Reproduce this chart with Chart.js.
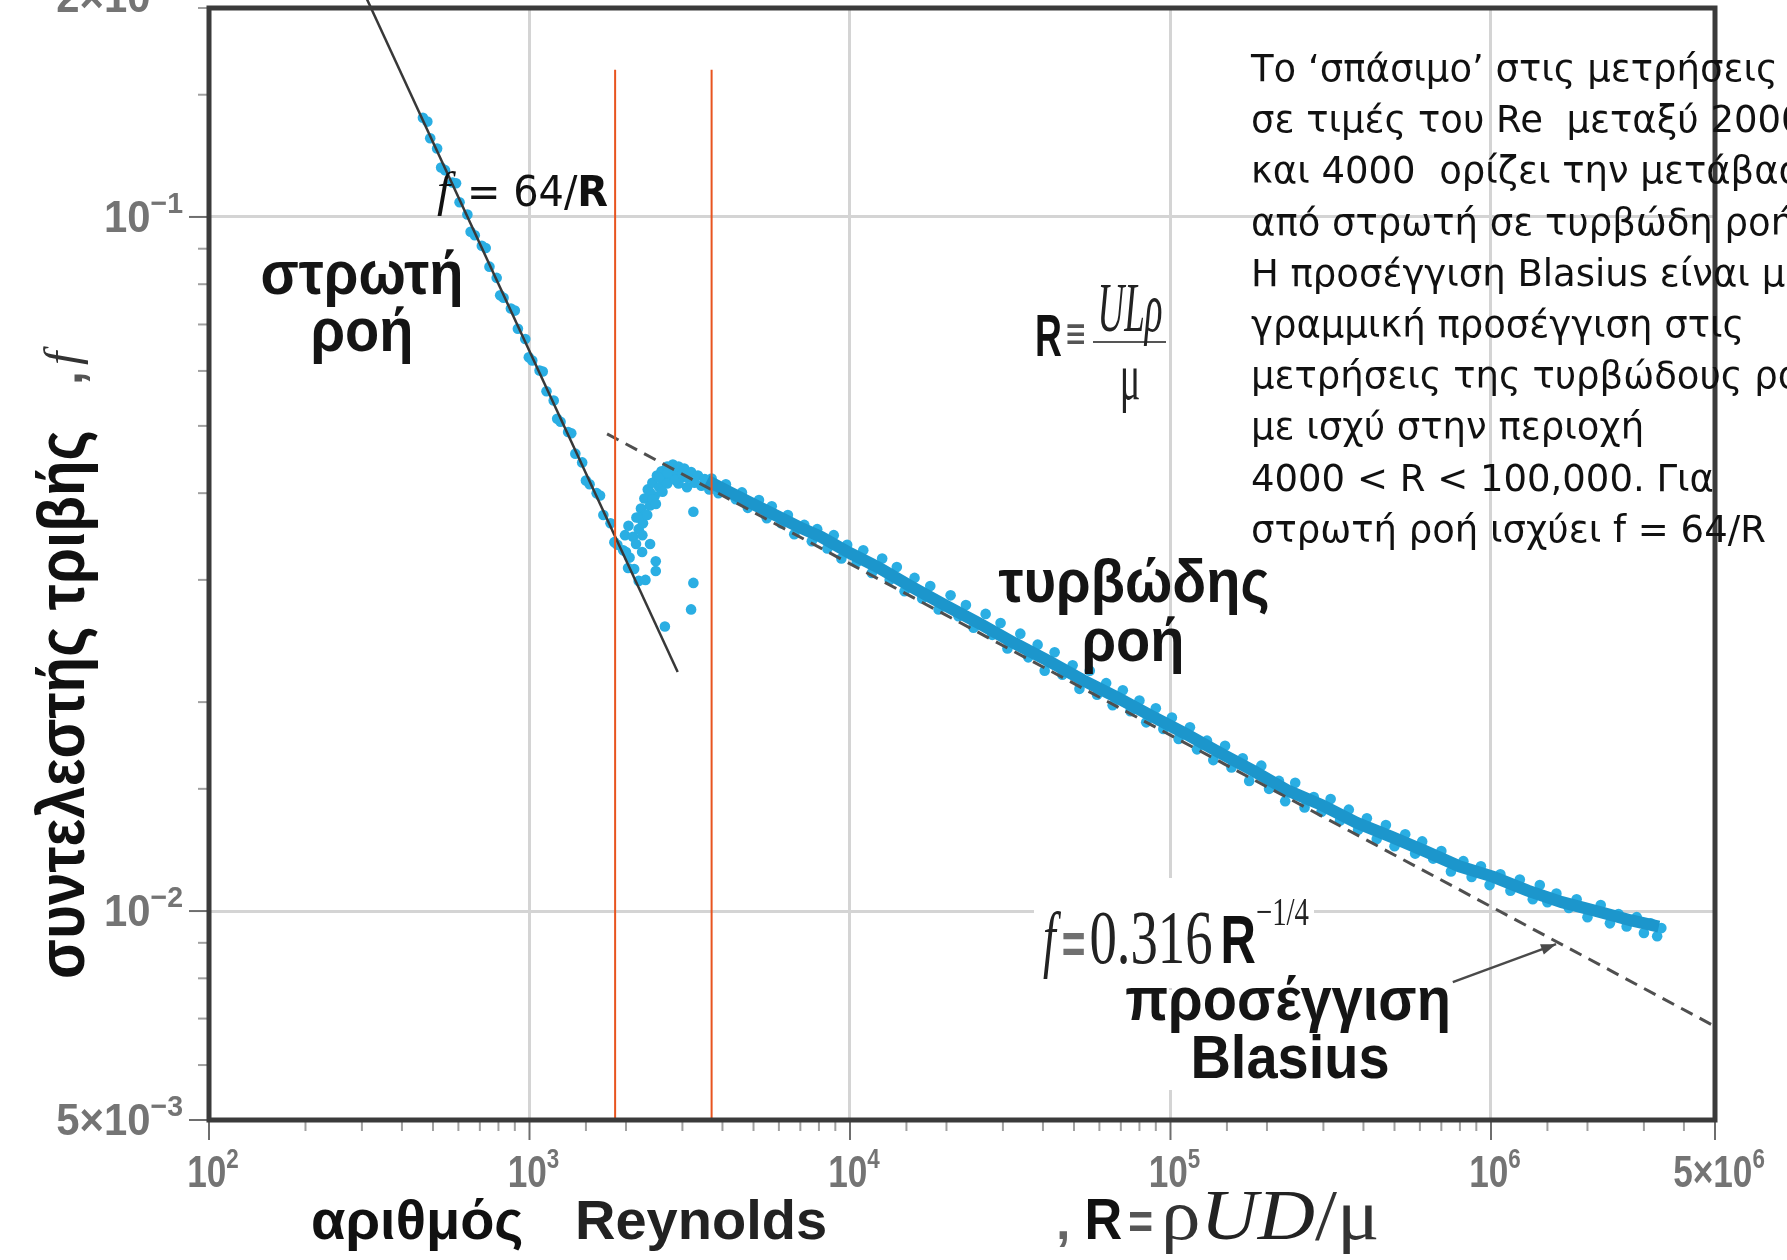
<!DOCTYPE html>
<html><head><meta charset="utf-8">
<script src="https://cdn.jsdelivr.net/npm/chart.js@4.4.1/dist/chart.umd.min.js"></script>
<style>html,body{margin:0;padding:0;background:#fff;}canvas{display:block;}</style>
</head><body>
<canvas id="c" width="1787" height="1260"></canvas>
<script>
// ---------------- DATA ----------------
const xMin = 100, xMax = 5e6, yMin = 5e-3, yMax = 0.2;

const xTickValues = [1e2, 1e3, 1e4, 1e5, 1e6, 5e6];
const xTickBase   = ['10', '10', '10', '10', '10', '5×10'];
const xTickExp    = ['2', '3', '4', '5', '6', '6'];
const yTickValues = [2e-1, 1e-1, 1e-2, 5e-3];
const yTickBase   = ['2×10', '10', '10', '5×10'];
const yTickExp    = ['−1', '−1', '−2', '−3'];

// f = 64/R  (laminar law, solid line)
const laminarLawR = [305, 2900];
const laminarLawF = [0.21, 0.0221];
// Blasius  f = 0.316 R^-1/4  (dashed line)
const blasiusR = [1746, 5e6];
const blasiusF = [0.0487, 0.00682];
// red vertical markers of the transition zone
const transitionMarkR = [1850, 3700];
const transitionMarkTopF = 0.163;
// arrow from the "Blasius" label to the dashed line
const arrowR = [760000, 1596000];
const arrowF = [0.0079, 0.00896];

// measurements – laminar region
const laminarPts = [
 [465,0.1390],[490,0.1298],[515,0.1255],[545,0.1168],[575,0.1121],[605,0.1050],[640,0.1008],[675,0.0941],
 [710,0.0909],[750,0.0848],[790,0.0817],[830,0.0765],[875,0.0738],[920,0.0690],[970,0.0667],[1020,0.0621],
 [1075,0.0601],[1130,0.0561],[1190,0.0544],[1250,0.0507],[1320,0.0490],[1390,0.0456],[1460,0.0443],[1540,0.0412],
 [1620,0.0400],[1700,0.0372],[1790,0.0362],[1880,0.0337],[1960,0.0331],[2030,0.0312],
 [480,0.1372],[530,0.1178],[590,0.1118],[655,0.0952],[730,0.0902],[810,0.0771],[900,0.0733],[995,0.0628],
 [1100,0.0599],[1220,0.0512],[1350,0.0488],[1500,0.0417],[1660,0.0397],[1840,0.0340],[2000,0.0329]
];
// measurements – transition region
const transitionPts = [
 [1986,0.0348],[2036,0.0359],[2052,0.0323],[2103,0.0346],[2121,0.0311],[2156,0.0369],[2191,0.0355],[2191,0.0299],
 [2227,0.0380],[2283,0.0393],[2301,0.0373],[2339,0.0405],[2378,0.0384],[2417,0.0414],[2457,0.0396],[2498,0.0424],
 [2539,0.0408],[2581,0.0430],[2624,0.0418],[2689,0.0437],[2733,0.0424],[2801,0.0440],[2847,0.0427],[2918,0.0437],
 [2967,0.0421],[3040,0.0434],[3115,0.0421],[3193,0.0429],[3272,0.0414],[3354,0.0424],[3438,0.0410],[3524,0.0419],
 [3641,0.0405],[3762,0.0413],[3887,0.0400],[4050,0.0405],[2378,0.0401],[2539,0.0421],[2689,0.0413],[2918,0.0413],
 [2191,0.0369],[2260,0.0362],[2420,0.0392],[2600,0.0402],[2850,0.0418],[3100,0.0408],[2330,0.0372],[2480,0.0386],
 [2700,0.0428],[3000,0.0426],[2150,0.0338],[2250,0.0348],
 [3246,0.0376],[3246,0.0297],[3193,0.0272],[2645,0.0257],[2477,0.0319],[2477,0.0309],[2246,0.0329],[2378,0.0338],[2301,0.0300]
];
// measurements – turbulent region: dense core of the cloud
const turbCoreR = [3580,4220,4970,5850,6890,8120,9970,12200,15600,20000,25600,32700,41800,53400,68300,87300,
 111600,142700,182400,233200,298100,381100,487300,623000,796300,1018000,1302000,1664000,2128000,2720000,3340000];
const turbCoreF = [0.0417,0.0401,0.0386,0.0372,0.0358,0.0346,0.0328,0.0313,0.0293,0.0275,0.0259,0.0243,0.0229,0.0215,0.0203,0.0191,
 0.0180,0.0169,0.0159,0.0149,0.0142,0.0134,0.0128,0.0122,0.0116,0.0112,0.0107,0.0103,0.0100,0.0097,0.0095];
// measurements – turbulent region: individual points around the core
const turbulentPts = [
 [3700,0.0420],[3900,0.0404],[4100,0.0412],[4400,0.0392],[4600,0.0401],[4800,0.0381],[5200,0.0391],[5500,0.0368],
 [5700,0.0383],[6100,0.0362],[6400,0.0372],[6700,0.0349],[7200,0.0360],[7600,0.0341],[7900,0.0355],[8500,0.0333],
 [8900,0.0348],[9400,0.0322],[9800,0.0337],[10500,0.0318],[11000,0.0331],[11700,0.0307],[12600,0.0322],[13300,0.0300],
 [14000,0.0313],[14800,0.0289],[15900,0.0302],[16800,0.0282],[17800,0.0294],[18900,0.0272],[20600,0.0285],[21800,0.0266],
 [23000,0.0276],[24300,0.0256],[26500,0.0268],[27800,0.0250],[29500,0.0260],[31000,0.0239],[34000,0.0251],[36000,0.0232],
 [38500,0.0242],[40500,0.0222],[43500,0.0236],[46000,0.0219],[49500,0.0226],[52000,0.0209],[56000,0.0222],[59000,0.0205],
 [63000,0.0213],[66000,0.0198],[71000,0.0208],[75000,0.0194],[80000,0.0201],[84000,0.0187],[90000,0.0196],[95000,0.0183],
 [101000,0.0190],[106000,0.0177],[115000,0.0184],[121000,0.0171],[130000,0.0176],[136000,0.0165],[148000,0.0173],[155000,0.0161],
 [168000,0.0166],[176000,0.0154],[192000,0.0162],[203000,0.0150],[218000,0.0154],[228000,0.0144],[245000,0.0153],[262000,0.0141],
 [280000,0.0146],[296000,0.0139],[316000,0.0145],[338000,0.0135],[360000,0.0140],[385000,0.0131],[410000,0.0136],[440000,0.0127],
 [470000,0.0133],[500000,0.0124],[540000,0.0129],[580000,0.0121],[610000,0.0126],[660000,0.0119],[700000,0.0122],[750000,0.0114],
 [820000,0.0118],[870000,0.0112],[930000,0.0116],[990000,0.0109],[1070000,0.0113],[1150000,0.0107],[1230000,0.0111],[1350000,0.0104],
 [1420000,0.0109],[1500000,0.0103],[1600000,0.0106],[1750000,0.0101],[1850000,0.0104],[2000000,0.0098],[2200000,0.0102],[2350000,0.0096],
 [2500000,0.0099],[2650000,0.0095],[2850000,0.0098],[3000000,0.0093],[3150000,0.0096],[3300000,0.0092],[3400000,0.00945]
];

const noteLines = [
 'Το ‘σπάσιμο’ στις μετρήσεις',
 'σε τιμές του Re  μεταξύ 2000',
 'και 4000  ορίζει την μετάβαση',
 'από στρωτή σε τυρβώδη ροή.',
 'Η προσέγγιση Blasius είναι μια',
 'γραμμική προσέγγιση στις',
 'μετρήσεις της τυρβώδους ροής',
 'με ισχύ στην περιοχή',
 '4000 < R < 100,000. Για',
 'στρωτή ροή ισχύει f = 64/R'
];

// ---------------- helpers ----------------
const cyan = '#2aaee3', cyanCore = '#1c96cc';
const xy = (R, F) => R.map((r, i) => ({x: r, y: F[i]}));
const pp = P => P.map(p => ({x: p[0], y: p[1]}));
const isMajor = v => v > 0 && Math.abs(Math.log10(v) - Math.round(Math.log10(v))) < 1e-6;
const near = (a, b) => Math.abs(Math.log10(a) - Math.log10(b)) < 1e-6;

function runs(ctx, x, y, parts) {
  for (const p of parts) {
    ctx.save();
    ctx.font = p.f; ctx.fillStyle = p.c || '#111';
    ctx.textAlign = 'left'; ctx.textBaseline = 'alphabetic';
    const sx = p.sx || 1;
    ctx.translate(x, y + (p.dy || 0)); ctx.scale(sx, p.sy || 1);
    ctx.fillText(p.t, 0, 0);
    x += ctx.measureText(p.t).width * sx + (p.gap || 0);
    ctx.restore();
  }
  return x;
}
function runsWidth(ctx, parts) {
  let w = 0;
  for (const p of parts) { ctx.save(); ctx.font = p.f; w += ctx.measureText(p.t).width * (p.sx || 1) + (p.gap || 0); ctx.restore(); }
  return w;
}
function ctext(ctx, t, cx, y, font, color, sy) {
  ctx.save(); ctx.font = font; ctx.fillStyle = color || '#111';
  ctx.textAlign = 'center'; ctx.textBaseline = 'alphabetic';
  ctx.translate(cx, y); ctx.scale(1, sy || 1);
  ctx.fillText(t, 0, 0); ctx.restore();
}

const deco = {
  id: 'deco',
  afterDraw(chart) {
    const ctx = chart.ctx, a = chart.chartArea, xs = chart.scales.x, ys = chart.scales.y;
    ctx.save();
    // tick marks
    ctx.lineWidth = 2;
    xs.ticks.forEach(t => {
      const px = xs.getPixelForValue(t.value);
      const maj = isMajor(t.value) || near(t.value, 5e6);
      ctx.strokeStyle = maj ? '#6e6e6e' : '#a0a0a0';
      ctx.beginPath(); ctx.moveTo(px, a.bottom); ctx.lineTo(px, a.bottom + (maj ? 20 : 11)); ctx.stroke();
    });
    ys.ticks.forEach(t => {
      const py = ys.getPixelForValue(t.value);
      const maj = isMajor(t.value) || near(t.value, 5e-3);
      ctx.strokeStyle = maj ? '#6e6e6e' : '#a0a0a0';
      ctx.beginPath(); ctx.moveTo(a.left, py); ctx.lineTo(a.left - (maj ? 20 : 11), py); ctx.stroke();
    });
    // frame
    ctx.strokeStyle = '#3b3b3b'; ctx.lineWidth = 5;
    ctx.strokeRect(a.left, a.top, a.right - a.left, a.bottom - a.top);

    // tick labels
    const tickCol = '#747474';
    const fB = 'bold 44px "Liberation Sans"', fE = 'bold 28px "Liberation Sans"';
    xTickValues.forEach((v, i) => {
      const px = xs.getPixelForValue(v);
      const parts = [
        {t: xTickBase[i], f: fB, c: tickCol, sx: 0.8},
        {t: xTickExp[i], f: fE, c: tickCol, sx: 0.8, dy: -19}
      ];
      const w = runsWidth(ctx, parts);
      runs(ctx, px - w / 2 + 4, 1187, parts);
    });
    yTickValues.forEach((v, i) => {
      const py = ys.getPixelForValue(v);
      const parts = [
        {t: yTickBase[i], f: fB, c: tickCol, sx: 0.95},
        {t: yTickExp[i], f: 'bold 30px "Liberation Sans"', c: tickCol, sx: 0.95, dy: -19}
      ];
      const w = runsWidth(ctx, parts);
      const base = py < 30 ? 12 : py + 15;
      runs(ctx, 183 - w, base, parts);
    });

    // arrow to Blasius line
    const ax1 = xs.getPixelForValue(arrowR[0]), ay1 = ys.getPixelForValue(arrowF[0]);
    const ax2 = xs.getPixelForValue(arrowR[1]), ay2 = ys.getPixelForValue(arrowF[1]);
    ctx.strokeStyle = '#4a4a4a'; ctx.fillStyle = '#4a4a4a'; ctx.lineWidth = 2.5;
    ctx.beginPath(); ctx.moveTo(ax1, ay1); ctx.lineTo(ax2, ay2); ctx.stroke();
    const ang = Math.atan2(ay2 - ay1, ax2 - ax1);
    ctx.beginPath(); ctx.moveTo(ax2, ay2);
    ctx.lineTo(ax2 - 16 * Math.cos(ang - 0.35), ay2 - 16 * Math.sin(ang - 0.35));
    ctx.lineTo(ax2 - 16 * Math.cos(ang + 0.35), ay2 - 16 * Math.sin(ang + 0.35));
    ctx.closePath(); ctx.fill();

    // white boxes behind formula labels
    ctx.fillStyle = '#ffffff';
    ctx.fillRect(1031, 262, 137, 160);
    ctx.fillRect(1034, 878, 280, 110);
    ctx.fillRect(1125, 990, 325, 100);

    // f = 64/R
    runs(ctx, 437, 206, [
      {t: 'f', f: 'italic 48px "Liberation Serif"', c: '#111', gap: 4},
      {t: ' = 64/', f: '42px "DejaVu Sans"', c: '#111', sx: 0.95},
      {t: 'R', f: 'bold 42px "DejaVu Sans"', c: '#111', sx: 0.95}
    ]);

    // region labels
    const lab = 'bold 56px "Liberation Sans"';
    ctext(ctx, 'στρωτή', 362, 294, lab, '#151515', 1.08);
    ctext(ctx, 'ροή', 362, 351, lab, '#151515', 1.08);
    ctext(ctx, 'τυρβώδης', 1134, 602, lab, '#151515', 1.08);
    ctext(ctx, 'ροή', 1133, 661, lab, '#151515', 1.08);
    ctext(ctx, 'προσέγγιση', 1288, 1020, lab, '#151515', 1.08);
    ctext(ctx, 'Blasius', 1290, 1078, lab, '#151515', 1.08);

    // R ≡ ULρ/μ
    runs(ctx, 1035, 356, [
      {t: 'R', f: 'bold 60px "Liberation Sans"', c: '#111', sx: 0.62, gap: 3},
      {t: '≡', f: '44px "DejaVu Sans"', c: '#555', sx: 0.6, dy: -8}
    ]);
    ctx.strokeStyle = '#555'; ctx.lineWidth = 2;
    ctx.beginPath(); ctx.moveTo(1093, 342); ctx.lineTo(1166, 342); ctx.stroke();
    ctx.save(); ctx.translate(1130, 331); ctx.scale(0.56, 1.05);
    ctx.font = 'italic 66px "Liberation Serif"'; ctx.fillStyle = '#222'; ctx.textAlign = 'center';
    ctx.fillText('ULρ', 0, 0); ctx.restore();
    ctx.save(); ctx.translate(1130, 399); ctx.scale(0.62, 1.05);
    ctx.font = '62px "Liberation Serif"'; ctx.fillStyle = '#222'; ctx.textAlign = 'center';
    ctx.fillText('μ', 0, 0); ctx.restore();

    // f = 0.316 R^-1/4
    runs(ctx, 1043, 963, [
      {t: 'f', f: 'italic 74px "Liberation Serif"', c: '#222', sx: 0.62, gap: 6},
      {t: '=', f: 'bold 58px "Liberation Sans"', c: '#707070', sx: 0.7, gap: 4},
      {t: '0.316', f: '76px "Liberation Serif"', c: '#222', sx: 0.72, gap: 8},
      {t: 'R', f: 'bold 68px "Liberation Sans"', c: '#111', sx: 0.72},
      {t: '−1/4', f: '40px "Liberation Serif"', c: '#222', sx: 0.72, dy: -38}
    ]);

    // axis titles
    runs(ctx, 311, 1239, [{t: 'αριθμός', f: 'bold 56px "Liberation Sans"', c: '#111'}]);
    runs(ctx, 575, 1239, [{t: 'Reynolds', f: 'bold 56px "Liberation Sans"', c: '#222'}]);
    runs(ctx, 1056, 1239, [
      {t: ',', f: 'bold 52px "Liberation Sans"', c: '#666', gap: 14},
      {t: 'R', f: 'bold 58px "Liberation Sans"', c: '#111', sx: 0.9, gap: 6},
      {t: '=', f: 'bold 50px "Liberation Sans"', c: '#555', sx: 0.85, gap: 8},
      {t: 'ρ', f: '72px "Liberation Serif"', c: '#333', sx: 1.1},
      {t: 'UD', f: 'italic 72px "Liberation Serif"', c: '#222', sx: 1.1},
      {t: '/μ', f: '72px "Liberation Serif"', c: '#333', sx: 1.1}
    ]);

    // y axis title (rotated)
    ctx.save();
    ctx.translate(84, 979); ctx.rotate(-Math.PI / 2);
    ctx.font = 'bold 60px "Liberation Sans"'; ctx.fillStyle = '#111'; ctx.textBaseline = 'alphabetic';
    const ys1 = 'συντελεστής τριβής';
    const w1 = ctx.measureText(ys1).width;
    ctx.save(); ctx.scale(549 / w1, 1.12); ctx.fillText(ys1, 0, 0); ctx.restore();
    ctx.font = 'bold 50px "Liberation Sans"'; ctx.fillStyle = '#555';
    ctx.fillText(',', 594, -2);
    ctx.font = 'italic 48px "Liberation Serif"'; ctx.fillStyle = '#333';
    ctx.fillText('f', 614, -6);
    ctx.restore();

    // explanatory text block
    ctx.font = '37px "DejaVu Sans"'; ctx.fillStyle = '#111'; ctx.textAlign = 'left'; ctx.textBaseline = 'alphabetic';
    noteLines.forEach((s, i) => ctx.fillText(s, 1251, 81 + i * 51.2));
    ctx.restore();
  }
};

const ptStyle = {pointRadius: 5.3, pointBackgroundColor: cyan, pointBorderWidth: 0, showLine: false};

new Chart(document.getElementById('c'), {
  type: 'scatter',
  data: {datasets: [
    {label: 'R = 1850', data: xy([transitionMarkR[0], transitionMarkR[0]], [transitionMarkTopF, yMin]),
     showLine: true, borderColor: '#e8541f', borderWidth: 2, pointRadius: 0, order: 0},
    {label: 'R = 3700', data: xy([transitionMarkR[1], transitionMarkR[1]], [transitionMarkTopF, yMin]),
     showLine: true, borderColor: '#e8541f', borderWidth: 2, pointRadius: 0, order: 0},
    {label: 'f = 64/R', data: xy(laminarLawR, laminarLawF), showLine: true, borderColor: '#383838',
     borderWidth: 2.5, pointRadius: 0, clip: false, order: 1},
    {label: 'Blasius', data: xy(blasiusR, blasiusF), showLine: true, borderColor: '#4f4f4f',
     borderWidth: 3, borderDash: [13, 8], pointRadius: 0, order: 1},
    {label: 'turbulent core', data: xy(turbCoreR, turbCoreF), showLine: true,
     borderColor: cyanCore, borderWidth: 12, pointRadius: 0, order: 2},
    Object.assign({label: 'laminar', data: pp(laminarPts), order: 3}, ptStyle),
    Object.assign({label: 'transition', data: pp(transitionPts), order: 3}, ptStyle),
    Object.assign({label: 'turbulent', data: pp(turbulentPts), order: 3}, ptStyle)
  ]},
  options: {
    responsive: false, animation: false, events: [],
    layout: {padding: {top: 8, right: 72, left: 0, bottom: 0}},
    plugins: {legend: {display: false}, tooltip: {enabled: false}, title: {display: false}},
    scales: {
      x: {type: 'logarithmic', position: 'bottom', min: xMin, max: xMax,
        ticks: {display: false},
        grid: {drawTicks: false,
          color: c => (c.tick && isMajor(c.tick.value)) ? '#d4d4d4' : 'rgba(0,0,0,0)',
          lineWidth: c => (c.tick && isMajor(c.tick.value)) ? 3 : 1},
        border: {display: false},
        afterFit: s => { s.height = 140; }},
      y: {type: 'logarithmic', position: 'left', min: yMin, max: yMax,
        ticks: {display: false},
        grid: {drawTicks: false,
          color: c => (c.tick && isMajor(c.tick.value)) ? '#d4d4d4' : 'rgba(0,0,0,0)',
          lineWidth: c => (c.tick && isMajor(c.tick.value)) ? 3 : 1},
        border: {display: false},
        afterFit: s => { s.width = 209; }}
    }
  },
  plugins: [deco]
});
</script>
</body></html>
